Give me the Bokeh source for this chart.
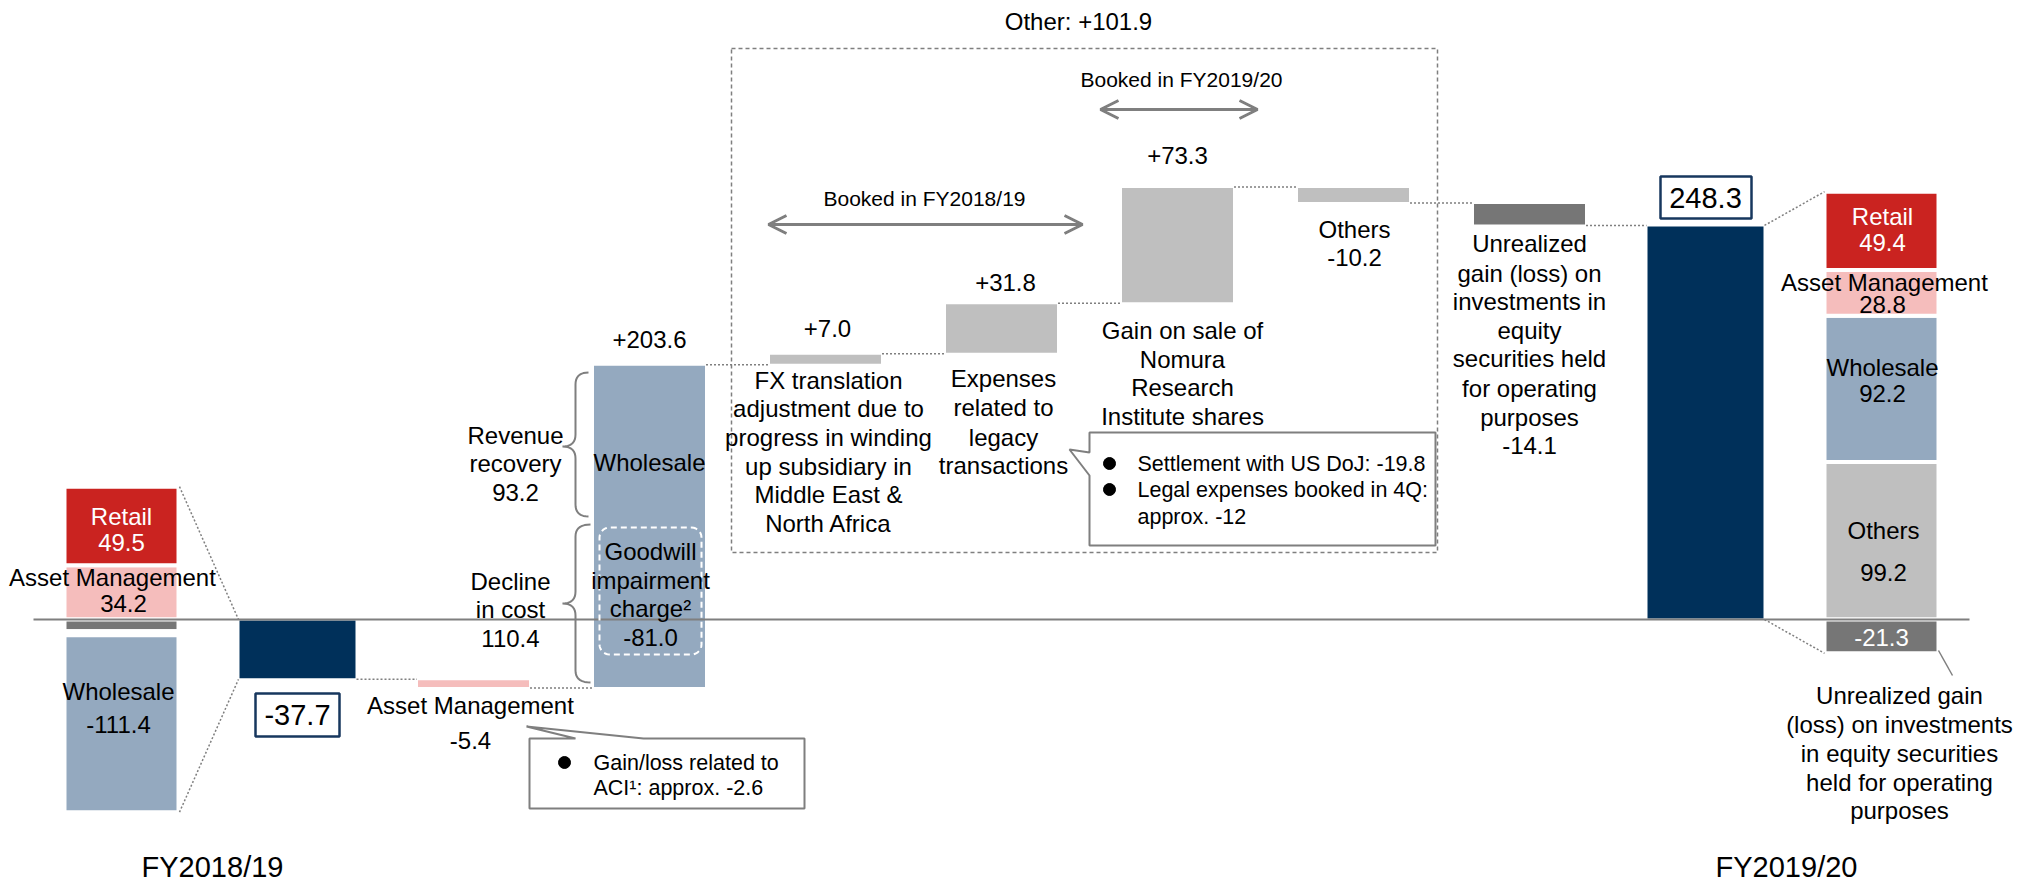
import numpy as np
from bokeh.plotting import figure
from bokeh.models import Range1d, Arrow, OpenHead
from bokeh.core.properties import value
from bokeh.embed import file_html
from bokeh.resources import INLINE

# ---------------- data ----------------
steps = ["FY2018/19", "Asset Management", "Wholesale", "FX translation adjustment",
         "Expenses related to legacy transactions", "Gain on sale of NRI shares",
         "Others", "Unrealized gain (loss)", "FY2019/20"]
step_values = [-37.7, -5.4, 203.6, 7.0, 31.8, 73.3, -10.2, -14.1, 248.3]
step_is_total = [True, False, False, False, False, False, False, False, True]

fy1819_segments = ["Asset Management", "Retail", "Unrealized", "Others", "Wholesale"]
fy1819_values = [34.2, 49.5, -7.4, -2.6, -111.4]
fy1920_segments = ["Others", "Wholesale", "Asset Management", "Retail", "Unrealized"]
fy1920_values = [99.2, 92.2, 28.8, 49.4, -21.3]

revenue_recovery = 93.2
decline_in_cost = 110.4
goodwill_charge = -81.0
other_total = 101.9
period_labels = ["FY2018/19", "FY2019/20"]

# ---------------- layout / style ----------------
FONT = value("Liberation Sans")
NAVY = "#00305A"
RED = "#CA2320"
PINK = "#F5BDBC"
BLUE = "#94A9BF"
LGRAY = "#BFBFBF"
DGRAY = "#767676"
LINE = "#7F7F7F"
BOXNAVY = "#17375E"

step_color = {
    "FY2018/19": NAVY, "Asset Management": PINK, "Wholesale": BLUE,
    "FX translation adjustment": LGRAY, "Expenses related to legacy transactions": LGRAY,
    "Gain on sale of NRI shares": LGRAY, "Others": LGRAY,
    "Unrealized gain (loss)": DGRAY, "FY2019/20": NAVY,
}
seg_color = {"Retail": RED, "Asset Management": PINK, "Wholesale": BLUE,
             "Others": LGRAY, "Unrealized": DGRAY}

K = 1.587          # pixels per unit
ZERO = 619         # pixel row of zero
W, H = 2020, 889


def Y(py):
    return (ZERO - py) / K


SLOT0, PITCH = 121, 176
step_x = [SLOT0 + PITCH * (i + 1) for i in range(len(steps))]
left_x = SLOT0
right_x = SLOT0 + PITCH * (len(steps) + 1)

p = figure(width=W, height=H, x_range=Range1d(0, W), y_range=Range1d(Y(H), Y(0)),
           output_backend="svg", toolbar_location=None, min_border=0,
           x_axis_location=None, y_axis_location=None)
p.grid.visible = False
p.outline_line_color = None
p.background_fill_color = "white"
p.border_fill_color = "white"

# ---------------- big dashed "Other" frame ----------------
p.quad(left=[731], right=[1437], top=[Y(48)], bottom=[Y(552)], fill_alpha=0,
       line_color=LINE, line_width=1.5, line_dash="4 3")

# ---------------- waterfall ----------------
bottoms, tops, levels, widths = [], [], [], []
level = 0.0
for v, tot in zip(step_values, step_is_total):
    if tot:
        b, t = min(0, v), max(0, v)
        level = v
    else:
        b, t = min(level, level + v), max(level, level + v)
        level += v
    bottoms.append(b)
    tops.append(t)
    levels.append(level)
    widths.append(118 if tot else 113)

p.quad(left=[x - w / 2 for x, w in zip(step_x, widths)],
       right=[x + w / 2 for x, w in zip(step_x, widths)],
       bottom=bottoms, top=tops,
       fill_color=[step_color[s] for s in steps], line_color="white", line_width=2)

# connectors
for i in range(len(steps) - 1):
    xa = step_x[i] + widths[i] / 2
    xb = step_x[i + 1] - widths[i + 1] / 2
    p.line([xa, xb], [levels[i], levels[i]], line_color=LINE, line_width=1.5, line_dash="2 2")


# ---------------- breakdown stacks ----------------
def stack(vals):
    pos, neg, out = 0.0, 0.0, []
    for v in vals:
        if v >= 0:
            out.append((pos, pos + v))
            pos += v
        else:
            out.append((neg + v, neg))
            neg += v
    return out, pos, neg


for cx, segs, vals in [(left_x, fy1819_segments, fy1819_values),
                       (right_x, fy1920_segments, fy1920_values)]:
    st, ptop, nbot = stack(vals)
    p.quad(left=[cx - 57] * len(st), right=[cx + 57] * len(st),
           bottom=[a for a, b in st], top=[b for a, b in st],
           fill_color=[seg_color[s] for s in segs], line_color="white", line_width=4)

# diagonal dotted links
l_st, l_top, l_bot = stack(fy1819_values)
r_st, r_top, r_bot = stack(fy1920_values)
dd = dict(line_color=LINE, line_width=1.5, line_dash="2 2")
p.line([left_x + 58, step_x[0] - 59], [l_top, max(0, step_values[0])], **dd)
p.line([left_x + 58, step_x[0] - 59], [l_bot, min(0, step_values[0])], **dd)
p.line([step_x[-1] + 59, right_x - 57], [step_values[-1], r_top], **dd)
p.line([step_x[-1] + 59, right_x - 57], [0, r_bot], **dd)

# ---------------- zero line ----------------
p.line([33, 1969], [0, 0], line_color=LINE, line_width=2)


# ---------------- shapes ----------------
def rounded_rect(x0, y0, x1, y1, r, n=8):
    xs, ys = [], []
    corners = [(x1 - r, y0 + r, -90, 0), (x1 - r, y1 - r, 0, 90),
               (x0 + r, y1 - r, 90, 180), (x0 + r, y0 + r, 180, 270)]
    for ccx, ccy, a0, a1 in corners:
        for a in np.linspace(np.radians(a0), np.radians(a1), n):
            xs.append(ccx + r * np.cos(a))
            ys.append(ccy + r * np.sin(a))
    xs.append(xs[0])
    ys.append(ys[0])
    return xs, [Y(v) for v in ys]


gx, gy = rounded_rect(599, 527, 701, 654, 10)
p.line(gx, gy, line_color="white", line_width=2, line_dash="6 4")


def brace(x_end, x_mid, x_tip, y_top, y_mid, y_bot, r=12, n=10):
    def qb(p0, c, p1):
        t = np.linspace(0, 1, n)
        return [((1 - u) ** 2 * p0[0] + 2 * (1 - u) * u * c[0] + u ** 2 * p1[0],
                 (1 - u) ** 2 * p0[1] + 2 * (1 - u) * u * c[1] + u ** 2 * p1[1]) for u in t]
    pts = []
    pts += qb((x_end, y_top), (x_mid, y_top), (x_mid, y_top + r))
    pts += qb((x_mid, y_mid - r), (x_mid, y_mid), (x_tip, y_mid))
    pts += qb((x_tip, y_mid), (x_mid, y_mid), (x_mid, y_mid + r))
    pts += qb((x_mid, y_bot - r), (x_mid, y_bot), (x_end, y_bot))
    return [a for a, b in pts], [Y(b) for a, b in pts]


for args in [(588, 575, 562, 372, 446, 516), (590, 575, 562, 524, 603, 682)]:
    bx, by = brace(*args)
    p.line(bx, by, line_color=LINE, line_width=2)

# callout boxes
c1x = [529, 575, 526, 643, 804, 804, 529, 529]
c1y = [738, 738, 726, 738, 738, 808, 808, 738]
p.patch(c1x, [Y(v) for v in c1y], fill_color="white", line_color=LINE, line_width=2)
c2x = [1089, 1435, 1435, 1089, 1089, 1069, 1089, 1089]
c2y = [432, 432, 545, 545, 475, 449, 452, 432]
p.patch(c2x, [Y(v) for v in c2y], fill_color="white", line_color=LINE, line_width=2)

# right callout leader
p.line([1938, 1952], [Y(650), Y(675)], line_color=LINE, line_width=1.5)

# total value boxes
p.quad(left=[255, 1660], right=[339, 1751], top=[Y(693), Y(176)], bottom=[Y(736), Y(218)],
       fill_color="white", line_color=BOXNAVY, line_width=2.5)

# bullets
p.scatter([564, 1109, 1109], [Y(762), Y(463), Y(489)], size=12, marker="circle",
          fill_color="black", line_color="black")

# arrows
for xa, xb, yy in [(1100, 1257, 109), (768, 1082, 224)]:
    p.add_layout(Arrow(x_start=xa, y_start=Y(yy), x_end=xb, y_end=Y(yy),
                       start=OpenHead(size=18, line_color=LINE, line_width=3),
                       end=OpenHead(size=18, line_color=LINE, line_width=3),
                       line_color=LINE, line_width=3))

# ---------------- texts ----------------
texts = []


def T(x, py, s, size=24, color="black", align="center"):
    texts.append((x, Y(py), s, size, color, align))


def lines(x, ys, strs, **kw):
    for yy, s in zip(ys, strs):
        T(x, yy, s, **kw)


def f(v):
    return f"{v:+.1f}"


T(1078, 21, f"Other: {other_total:+.1f}")
T(1181, 79, "Booked in FY2019/20", size=21)
T(924, 198, "Booked in FY2018/19", size=21)
T(1177, 155, f(step_values[5]))
lines(1354, [229, 257], ["Others", f"{step_values[6]:.1f}"])
T(1005, 282, f(step_values[4]))
T(827, 328, f(step_values[3]))
T(649, 339, f(step_values[2]))
lines(1182, [330, 359, 387, 416], ["Gain on sale of", "Nomura", "Research", "Institute shares"])
lines(828, [380, 408, 437, 466, 494, 523],
      ["FX translation", "adjustment due to", "progress in winding", "up subsidiary in",
       "Middle East &", "North Africa"])
lines(1003, [378, 407, 437, 465], ["Expenses", "related to", "legacy", "transactions"])
lines(1529, [243, 273, 301, 330, 358, 388, 417, 445],
      ["Unrealized", "gain (loss) on", "investments in", "equity", "securities held",
       "for operating", "purposes", f"{step_values[7]:.1f}"])
lines(515, [435, 463, 492], ["Revenue", "recovery", f"{revenue_recovery:.1f}"])
lines(510, [581, 609, 638], ["Decline", "in cost", f"{decline_in_cost:.1f}"])
T(649, 462, "Wholesale")
lines(650, [551, 580, 608, 637], ["Goodwill", "impairment", "charge\u00b2", f"{goodwill_charge:.1f}"])
lines(470, [705, 740], ["Asset Management", f"{step_values[1]:.1f}"])
T(593, 762, "Gain/loss related to", size=21.5, align="left")
T(593, 787, "ACI\u00b9: approx. -2.6", size=21.5, align="left")
T(1137, 463, "Settlement with US DoJ: -19.8", size=21.5, align="left")
T(1137, 489, "Legal expenses booked in 4Q:", size=21.5, align="left")
T(1137, 516, "approx. -12", size=21.5, align="left")

lv = dict(zip(fy1819_segments, fy1819_values))
rv = dict(zip(fy1920_segments, fy1920_values))
lines(121, [516, 542], ["Retail", f"{lv['Retail']:.1f}"], color="white")
lines(112, [577], ["Asset Management"])
lines(123, [603], [f"{lv['Asset Management']:.1f}"])
lines(118, [691, 724], ["Wholesale", f"{lv['Wholesale']:.1f}"])
T(297, 714.5, f"{step_values[0]:.1f}", size=29)

lines(1882, [216, 242], ["Retail", f"{rv['Retail']:.1f}"], color="white")
lines(1884, [282], ["Asset Management"])
lines(1882, [304], [f"{rv['Asset Management']:.1f}"])
lines(1882, [367, 393], ["Wholesale", f"{rv['Wholesale']:.1f}"])
lines(1883, [530, 572], ["Others", f"{rv['Others']:.1f}"])
T(1881, 637, f"{rv['Unrealized']:.1f}", color="white")
T(1705, 197, f"{step_values[-1]:.1f}", size=29)
lines(1899, [695, 724, 753, 782, 810],
      ["Unrealized gain", "(loss) on investments", "in equity securities",
       "held for operating", "purposes"])
T(212, 866, period_labels[0], size=29)
T(1786, 866, period_labels[1], size=29)

groups = {}
for x, y, s, size, color, align in texts:
    groups.setdefault((size, color, align), []).append((x, y, s))
for (size, color, align), items in groups.items():
    p.text(x=[i[0] for i in items], y=[i[1] for i in items], text=[i[2] for i in items],
           text_font=FONT, text_font_size=f"{size}px", text_color=color,
           text_align=align, text_baseline="middle")

open("out.html", "w").write(file_html(p, INLINE))
